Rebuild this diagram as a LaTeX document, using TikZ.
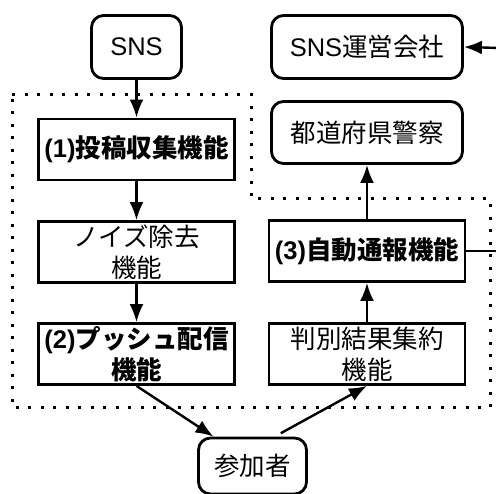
\documentclass[tikz,border=0pt]{standalone}
\usepackage{fontspec}
\setmainfont{Liberation Sans}
\newfontfamily\cjk{Noto Sans CJK JP}
\usetikzlibrary{arrows.meta,calc}
\begin{document}
\begin{tikzpicture}[x=1pt,y=-1pt,
  box/.style={draw,line width=2.8pt,minimum width=196pt,minimum height=61pt,inner sep=0pt,align=center,font=\fontsize{25.5}{31}\selectfont},
  rbox/.style={box,rounded corners=12pt},
  conn/.style={line width=2.4pt,-{Latex[length=18pt,width=14pt]}},
  plain/.style={line width=2.4pt},
  zone/.style={line width=3pt,dash pattern=on 3pt off 9.5pt}]
\useasboundingbox (0,0) rectangle (496,494);
\clip (0,0) rectangle (496,494);
\fill[white] (0,0) rectangle (496,494);
% dotted zone
\draw[zone] (12,95) -- (251,95) -- (251,199) -- (490,199) -- (490,408) -- (12,408) -- cycle;
% nodes
\node[rbox,minimum width=90pt,minimum height=63pt] (sns) at (136.5,47) {SNS};
\node[rbox,minimum width=191pt,minimum height=63pt] (op) at (367,47) {SNS{\cjk 運営会社}};
\node[rbox,minimum width=191pt,minimum height=62pt] (police) at (367,132.5) {{\cjk 都道府県警察}};
\node[box] (p1) at (136.5,149.5) {\bfseries (1){\cjk\bfseries 投稿収集機能}};
\node[box] (noise) at (136.5,252) {{\cjk ノイズ除去}\\{\cjk 機能}};
\node[box] (p2) at (136.5,354) {\bfseries (2){\cjk\bfseries プッシュ配信}\\{\cjk\bfseries 機能}};
\node[box] (p3) at (367,251) {\bfseries (3){\cjk\bfseries 自動通報機能}};
\node[box] (agg) at (367,354) {{\cjk 判別結果集約}\\{\cjk 機能}};
\node[rbox,minimum width=108pt,minimum height=56pt] (user) at (252.5,466) {{\cjk 参加者}};
\coordinate (outA) at (500,251);
\coordinate (outB) at (500,48);
% connectors
\draw[conn] (sns) -- (p1);
\draw[conn] (p1) -- (noise);
\draw[conn] (noise) -- (p2);
\draw[conn] (p2.south) -- (user.143);
\draw[conn,shorten <=7pt] (user.53) -- (agg.south);
\draw[conn] (agg) -- (p3);
\draw[conn] (p3) -- (police);
\draw[plain] (p3.east) -- (outA);
\draw[conn] (outB) -- (op.east);
\end{tikzpicture}
\end{document}
